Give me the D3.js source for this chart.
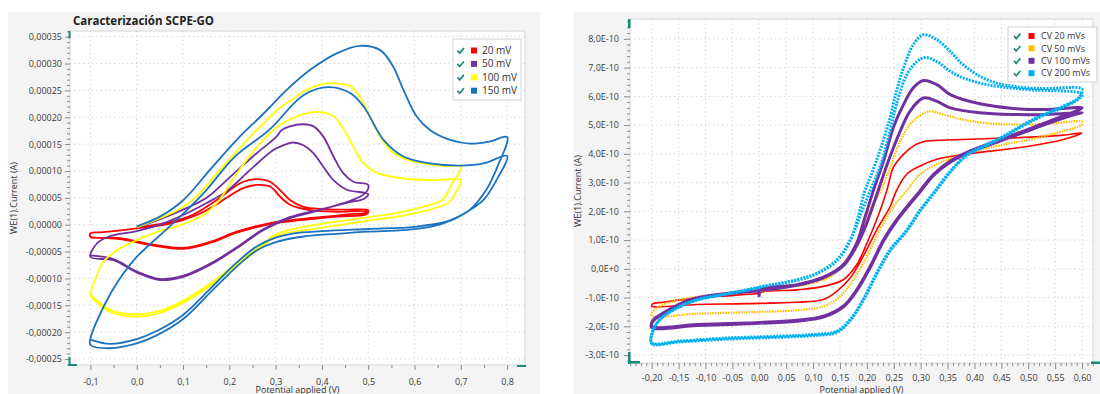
<!DOCTYPE html>
<meta charset="utf-8">
<style>
body { margin: 0; background: #fff; }
svg { display: block; font-family: "Open Sans", "Noto Sans", sans-serif; }
</style>
<svg width="1100" height="394"></svg>
<script src="https://d3js.org/d3.v7.min.js"></script>
<script>

// ---- left chart: potential (V) vs current (µA) ----
var leftNames = ["20 mV", "50 mV", "100 mV", "150 mV"];

var cvL20 = [
  [0.00,-5],[0.06,3],[0.12,18],[0.173,46],[0.202,65],[0.23,80],[0.259,85],[0.288,80],[0.317,58],[0.331,46],[0.36,33],[0.403,29],[0.45,28],[0.50,27],
  [0.495,22],[0.468,20],[0.432,17],[0.396,14],[0.36,11],[0.288,3],[0.216,-13],[0.158,-32],[0.101,-43],[0.036,-37],[-0.036,-25],[-0.10,-22],
  [-0.10,-16],[-0.072,-14],[0.0,-7],[0.072,2],[0.13,18],[0.173,38],[0.194,50],[0.23,68],[0.259,74],[0.288,71],[0.31,52],[0.331,37],[0.374,27],[0.432,24],[0.50,24],
  [0.495,19],[0.432,15],[0.36,9],[0.288,1],[0.216,-15],[0.158,-34],[0.101,-45],[0.036,-39],[-0.036,-27],[-0.10,-24]
];
var cvL50 = [
  [0.0,-5],[0.05,10],[0.10,28],[0.151,50],[0.202,89],[0.259,133],[0.302,164],[0.313,176],[0.331,183],[0.36,187],[0.382,183],[0.403,164],[0.425,127],[0.446,96],[0.468,80],[0.50,74],
  [0.497,62],[0.482,52],[0.446,40],[0.396,27],[0.331,12],[0.274,-10],[0.216,-44],[0.158,-75],[0.101,-97],[0.05,-103],[0.0,-89],[-0.05,-66],[-0.10,-60],
  [-0.086,-35],[-0.06,-22],[0.0,-12],[0.05,0],[0.10,18],[0.15,40],[0.194,62],[0.245,102],[0.295,139],[0.317,148],[0.338,153],[0.36,148],[0.382,133],[0.403,108],[0.425,83],[0.454,65],[0.50,57],
  [0.49,48],[0.46,42],[0.40,29],[0.33,14],[0.274,-8],[0.216,-42],[0.158,-73],[0.101,-95],[0.05,-101],[0.0,-87],[-0.05,-64],[-0.10,-57]
];
var cvL100 = [
  [0.0,-5],[0.05,12],[0.09,28],[0.126,50],[0.18,102],[0.259,176],[0.317,223],[0.335,232],[0.36,248],[0.403,262],[0.432,263],[0.461,258],[0.482,238],[0.504,201],[0.526,164],[0.547,139],[0.576,124],[0.619,114],[0.662,109],[0.70,108],
  [0.68,75],[0.66,46],[0.626,35],[0.562,22],[0.468,10],[0.36,-4],[0.30,-18],[0.274,-35],[0.216,-72],[0.158,-110],[0.101,-141],[0.043,-162],[0.0,-167],[-0.058,-158],[-0.10,-128],
  [-0.099,-125],[-0.086,-94],[-0.072,-69],[-0.036,-44],[0.0,-29],[0.043,-14],[0.094,-1],[0.144,18],[0.173,40],[0.216,95],[0.266,151],[0.31,186],[0.36,206],[0.389,210],[0.425,202],[0.446,179],[0.468,145],[0.49,114],[0.518,97],[0.576,86],[0.648,83],[0.70,83],
  [0.69,62],[0.675,42],[0.633,28],[0.576,17],[0.504,8],[0.396,-6],[0.30,-22],[0.274,-39],[0.216,-76],[0.158,-114],[0.101,-145],[0.043,-166],[0.0,-171],[-0.058,-162],[-0.10,-133]
];
var cvL150 = [
  [0.0,-3],[0.05,15],[0.101,46],[0.158,102],[0.216,158],[0.274,207],[0.324,251],[0.374,288],[0.432,319],[0.482,333],[0.526,325],[0.554,294],[0.576,251],[0.605,201],[0.634,176],[0.677,158],[0.72,151],[0.763,155],[0.80,163],
  [0.78,110],[0.755,65],[0.72,28],[0.684,10],[0.634,-4],[0.576,-10],[0.50,-13],[0.432,-17],[0.36,-22],[0.302,-32],[0.259,-48],[0.216,-78],[0.158,-127],[0.101,-175],[0.043,-206],[0.0,-221],[-0.058,-230],[-0.10,-224],
  [-0.10,-212],[-0.07,-150],[-0.04,-105],[0.0,-60],[0.05,-20],[0.10,20],[0.151,65],[0.21,125],[0.288,178],[0.36,241],[0.414,256],[0.461,245],[0.49,220],[0.533,158],[0.576,127],[0.634,114],[0.698,110],[0.749,114],[0.80,128],
  [0.775,80],[0.749,46],[0.71,22],[0.67,6],[0.60,-4],[0.50,-8],[0.40,-12],[0.34,-16],[0.30,-24],[0.26,-40],[0.215,-71],[0.158,-120],[0.10,-168],[0.043,-198],[0.0,-213],[-0.058,-222],[-0.10,-214]
];

// ---- right chart: potential (V) vs current (pA) ----
var rightNames = ["CV 20 mVs", "CV 50 mVs", "CV 100 mVs", "CV 200 mVs"];

var cvR20 = [
  [0.0,-98],[0.002,-84],[0.07,-73],[0.119,-61],[0.156,-38],[0.181,14],[0.20,89],[0.218,170],[0.237,272],[0.249,352],[0.268,398],[0.286,427],[0.305,442],[0.33,447],[0.379,450],[0.441,454],[0.503,458],[0.565,465],[0.60,473],
  [0.565,450],[0.503,427],[0.441,412],[0.379,398],[0.33,381],[0.299,358],[0.274,329],[0.255,272],[0.243,216],[0.218,135],[0.193,43],[0.169,-32],[0.144,-78],[0.119,-107],[0.07,-116],[-0.023,-121],[-0.116,-124],[-0.20,-130],
  [-0.198,-122],[-0.178,-116],[-0.116,-101],[-0.054,-93],[0.0,-86]
];
var cvR50 = [
  [0.0,-80],[0.039,-67],[0.10,-49],[0.138,-21],[0.162,31],[0.187,112],[0.206,205],[0.226,272],[0.243,352],[0.262,444],[0.28,502],[0.299,534],[0.317,548],[0.342,537],[0.379,519],[0.416,508],[0.472,502],[0.534,504],[0.60,511],
  [0.598,500],[0.565,479],[0.503,450],[0.441,427],[0.379,398],[0.33,364],[0.299,329],[0.274,272],[0.249,216],[0.224,135],[0.20,43],[0.175,-38],[0.15,-96],[0.119,-130],[0.07,-144],[-0.023,-151],[-0.116,-156],[-0.20,-163],
  [-0.198,-150],[-0.185,-130],[-0.147,-107],[-0.085,-90],[-0.023,-78],[0.0,-76]
];
var cvR100 = [
  [0.0,-98],[0.002,-73],[0.07,-55],[0.119,-29],[0.156,14],[0.181,89],[0.193,158],[0.212,272],[0.231,375],[0.249,491],[0.268,571],[0.286,629],[0.305,655],[0.33,641],[0.355,606],[0.41,574],[0.472,558],[0.534,554],[0.60,560],
  [0.593,552],[0.54,514],[0.491,479],[0.441,444],[0.392,410],[0.355,375],[0.324,329],[0.299,272],[0.255,170],[0.231,101],[0.206,8],[0.181,-73],[0.156,-130],[0.119,-165],[0.07,-179],[-0.023,-188],[-0.116,-194],[-0.20,-200],
  [-0.198,-180],[-0.178,-153],[-0.129,-107],[-0.054,-84],[0.0,-75],[0.07,-57],[0.119,-31],[0.156,10],[0.181,80],[0.20,160],[0.221,272],[0.24,375],[0.262,479],[0.28,548],[0.305,594],[0.33,583],[0.355,560],[0.41,543],[0.472,537],[0.534,537],[0.60,543],
  [0.593,540],[0.54,508],[0.491,474],[0.441,440],[0.392,406],[0.355,371],[0.324,325],[0.299,268],[0.255,166],[0.231,97],[0.206,4],[0.181,-77],[0.156,-133],[0.119,-168],[0.07,-182],[-0.023,-191],[-0.116,-197],[-0.20,-204],
  [-0.198,-183],[-0.178,-156],[-0.129,-110],[-0.054,-86],[0.0,-77]
];
var cvR200 = [
  [0.0,-63],[0.07,-38],[0.107,-15],[0.144,31],[0.169,101],[0.184,182],[0.195,265],[0.206,317],[0.224,410],[0.243,525],[0.255,618],[0.268,698],[0.286,779],[0.305,814],[0.33,797],[0.355,756],[0.379,710],[0.41,670],[0.441,646],[0.472,635],[0.503,629],[0.534,627],[0.60,625],
  [0.593,594],[0.565,566],[0.528,537],[0.491,502],[0.454,462],[0.416,427],[0.386,398],[0.355,340],[0.327,272],[0.299,205],[0.274,135],[0.243,66],[0.218,-15],[0.193,-107],[0.169,-176],[0.144,-217],[0.10,-228],[0.039,-234],[-0.054,-240],[-0.147,-251],[-0.20,-257],
  [-0.197,-211],[-0.185,-176],[-0.16,-142],[-0.116,-107],[-0.054,-84],[0.008,-61],[0.07,-40],[0.107,-17],[0.144,28],[0.169,98],[0.187,182],[0.206,271],[0.224,352],[0.243,479],[0.255,571],[0.274,675],[0.293,721],[0.308,735],[0.33,721],[0.355,687],[0.379,664],[0.41,646],[0.441,635],[0.503,623],[0.60,608],
  [0.593,590],[0.565,562],[0.528,533],[0.491,498],[0.454,458],[0.416,423],[0.386,394],[0.355,336],[0.327,268],[0.299,201],[0.274,131],[0.243,62],[0.218,-19],[0.193,-111],[0.169,-180],[0.144,-221],[0.10,-232],[0.039,-238],[-0.054,-244],[-0.147,-254],[-0.20,-260],
  [-0.197,-215],[-0.185,-178],[-0.16,-144],[-0.116,-109],[-0.054,-86],[0.0,-66]
];

// tick values
var leftYTicks = d3.range(-250, 351, 50);
var leftXTicks = d3.range(-1, 9).map(function(i) { return i / 10; });
var rightYTicks = d3.range(-300, 801, 100);
var rightXTicks = d3.range(-4, 13).map(function(i) { return i / 20; });

var FONT = '"Open Sans", "Noto Sans", sans-serif';
var TEAL = "#17897a";
var loc = d3.formatLocale({decimal: ",", thousands: ".", grouping: [3], currency: ["", ""], minus: "-"});

var svg = d3.select("svg");

function drawPanel(p) {
  var g = svg.append("g");

  g.append("rect")
      .attr("x", p.panel[0]).attr("y", p.panel[1])
      .attr("width", p.panel[2]).attr("height", p.panel[3])
      .attr("fill", "#f4f4f4");

  var x = d3.scaleLinear().domain(p.xDomain).range([p.left, p.right]);
  var y = d3.scaleLinear().domain(p.yDomain).range([p.bottom, p.top]);

  g.append("rect")
      .attr("x", p.left).attr("y", p.top)
      .attr("width", p.right - p.left).attr("height", p.bottom - p.top)
      .attr("fill", "#fff")
      .attr("stroke", "#d6d6d6");

  // dotted grid
  var grid = g.append("g")
      .attr("stroke", "#cfcfcf")
      .attr("stroke-dasharray", "1.2,3.2");
  grid.selectAll(".gx").data(p.xGrid).join("line")
      .attr("x1", function(d) { return x(d); }).attr("x2", function(d) { return x(d); })
      .attr("y1", p.top).attr("y2", p.bottom);
  grid.selectAll(".gy").data(p.yGrid).join("line")
      .attr("y1", function(d) { return y(d); }).attr("y2", function(d) { return y(d); })
      .attr("x1", p.left).attr("x2", p.right);

  // axes: minor then major
  function styleAxis(a) {
    a.select(".domain").remove();
    a.attr("font-family", FONT).attr("font-size", 9);
    a.selectAll("line").attr("stroke", "#8a8a8a");
    a.selectAll("text").attr("fill", "#3a3a3a");
  }
  g.append("g")
      .attr("transform", "translate(" + p.left + ",0)")
      .call(d3.axisLeft(y).tickValues(p.yMinor).tickSize(3).tickFormat(""))
      .call(styleAxis);
  g.append("g")
      .attr("transform", "translate(" + p.left + ",0)")
      .call(d3.axisLeft(y).tickValues(p.yTicks).tickSize(p.tickLen).tickPadding(p.yPad).tickFormat(p.yFmt))
      .call(styleAxis);
  g.append("g")
      .attr("transform", "translate(0," + p.bottom + ")")
      .call(d3.axisBottom(x).tickValues(p.xMinor).tickSize(3).tickFormat(""))
      .call(styleAxis);
  g.append("g")
      .attr("transform", "translate(0," + p.bottom + ")")
      .call(d3.axisBottom(x).tickValues(p.xTicks).tickSize(p.tickLen).tickPadding(p.xPad).tickFormat(p.xFmt))
      .call(styleAxis);

  // curves
  var clipId = "clip" + p.id;
  svg.append("clipPath").attr("id", clipId)
    .append("rect")
      .attr("x", p.left).attr("y", p.top)
      .attr("width", p.right - p.left).attr("height", p.bottom - p.top);

  var line = d3.line()
      .x(function(d) { return x(d[0]); })
      .y(function(d) { return y(d[1]); })
      .curve(d3.curveCatmullRom.alpha(0.5));

  g.append("g")
      .attr("clip-path", "url(#" + clipId + ")")
      .attr("fill", "none")
    .selectAll("path")
    .data(p.series)
    .join("path")
      .attr("d", function(d) { return line(d.values); })
      .attr("stroke", function(d) { return d.color; })
      .attr("stroke-width", function(d) { return d.width; })
      .attr("stroke-dasharray", function(d) { return d.dash; })
      .attr("stroke-linejoin", "round");

  // legend
  var lg = g.append("g").attr("transform", "translate(" + p.legend[0] + "," + p.legend[1] + ")");
  lg.append("rect")
      .attr("width", p.legend[2]).attr("height", p.legend[3])
      .attr("fill", "#fff").attr("stroke", "#d2d2d2");
  var item = lg.selectAll(".item").data(p.series).join("g")
      .attr("transform", function(d, i) { return "translate(0," + (p.legendRow0 + i * p.legendStep) + ")"; });
  item.append("path")
      .attr("d", "M" + (p.legendCheck - 3) + ",0 l2.2,2.6 l4.2,-5")
      .attr("fill", "none").attr("stroke", TEAL).attr("stroke-width", 1.7);
  item.append("rect")
      .attr("x", p.legendSwatch).attr("y", -3)
      .attr("width", 6).attr("height", 6)
      .attr("fill", function(d) { return d.color; });
  item.append("text")
      .attr("x", p.legendText).attr("dy", "0.35em")
      .attr("font-family", FONT).attr("font-size", p.legendFont)
      .attr("fill", "#333")
      .text(function(d) { return d.name; });

  // axis titles
  g.append("text")
      .attr("transform", "translate(" + p.yLabelX + "," + (p.top + p.bottom) / 2 + ") rotate(-90)")
      .attr("text-anchor", "middle").attr("dy", "0.35em")
      .attr("font-family", FONT).attr("font-size", 9).attr("fill", "#333")
      .text("WE(1).Current (A)");
  g.append("text")
      .attr("x", (p.left + p.right) / 2).attr("y", p.xLabelY)
      .attr("text-anchor", "middle")
      .attr("font-family", FONT).attr("font-size", 9).attr("fill", "#333")
      .text("Potential applied (V)");

  // little teal zoom handles
  var h = g.append("g").attr("fill", TEAL);
  p.handles.forEach(function(r) {
    h.append("rect").attr("x", r[0]).attr("y", r[1]).attr("width", r[2]).attr("height", r[3]);
  });

  return g;
}

function minorBetween(lo, hi, step, major) {
  var n0 = Math.ceil(lo / step), n1 = Math.floor(hi / step);
  return d3.range(n0, n1 + 1).map(function(i) { return +(i * step).toFixed(6); })
    .filter(function(v) { return !major.some(function(m) { return Math.abs(m - v) < step / 10; }); });
}

// left chart
var lx = [-0.1441, 0.8386], ly = [-261.2, 360.6];
var left = drawPanel({
  id: "L",
  panel: [8, 12, 532, 382],
  left: 70, right: 525, top: 31, bottom: 365,
  xDomain: lx, yDomain: ly,
  xTicks: leftXTicks, yTicks: leftYTicks,
  xGrid: leftXTicks, yGrid: leftYTicks,
  xMinor: minorBetween(lx[0], lx[1], 0.05, leftXTicks),
  yMinor: minorBetween(ly[0], ly[1], 10, leftYTicks),
  tickLen: 5, xPad: 9, yPad: 3,
  xFmt: function(v) { return loc.format(".1f")(v); },
  yFmt: function(v) { return loc.format(".5f")(v * 1e-6); },
  series: [
    {name: leftNames[0], values: cvL20, color: "#ff0000", width: 1.8},
    {name: leftNames[1], values: cvL50, color: "#7030a0", width: 1.8},
    {name: leftNames[2], values: cvL100, color: "#ffff00", width: 1.8},
    {name: leftNames[3], values: cvL150, color: "#1b72c0", width: 1.8}
  ],
  legend: [453, 39, 68, 61], legendRow0: 11.5, legendStep: 13.4,
  legendCheck: 7.5, legendSwatch: 18, legendText: 29, legendFont: 10,
  yLabelX: 14, xLabelY: 393,
  handles: [[68.5, 31, 2, 7.5], [68.5, 357, 2, 9], [68.5, 364, 8.5, 2], [517, 365, 9, 2]]
});

left.append("text")
    .attr("x", 73).attr("y", 24.5)
    .attr("font-family", FONT).attr("font-size", 11.5).attr("font-weight", "bold")
    .attr("fill", "#222")
    .text("Caracterización SCPE-GO");

// right chart
var rx = [-0.2403, 0.6203], ry = [-327.5, 869];
drawPanel({
  id: "R",
  panel: [573, 12, 527, 382],
  left: 630, right: 1093, top: 19, bottom: 363,
  xDomain: rx, yDomain: ry,
  xTicks: rightXTicks, yTicks: rightYTicks,
  xGrid: rightXTicks, yGrid: rightYTicks,
  xMinor: minorBetween(rx[0], rx[1], 0.01, rightXTicks),
  yMinor: minorBetween(ry[0], ry[1], 20, rightYTicks),
  tickLen: 6, xPad: 6, yPad: 5,
  xFmt: function(v) { return loc.format(".2f")(v); },
  yFmt: function(v) { return v === 0 ? "0,0E+0" : loc.format(".1f")(v / 100) + "E-10"; },
  series: [
    {name: rightNames[0], values: cvR20, color: "#ff0000", width: 1.6},
    {name: rightNames[1], values: cvR50, color: "#ffc000", width: 2.2, dash: "1.6,1"},
    {name: rightNames[2], values: cvR100, color: "#7030a0", width: 3},
    {name: rightNames[3], values: cvR200, color: "#00b0f0", width: 3, dash: "2,1.2"}
  ],
  legend: [1008, 27, 89, 55], legendRow0: 9, legendStep: 12.4,
  legendCheck: 9, legendSwatch: 20.5, legendText: 33, legendFont: 9,
  yLabelX: 578, xLabelY: 392.5,
  handles: [[628, 19, 2.5, 9], [628, 352, 2.5, 12], [628, 361, 12, 2.5], [1091, 361.5, 9, 2.5]]
});

</script>
